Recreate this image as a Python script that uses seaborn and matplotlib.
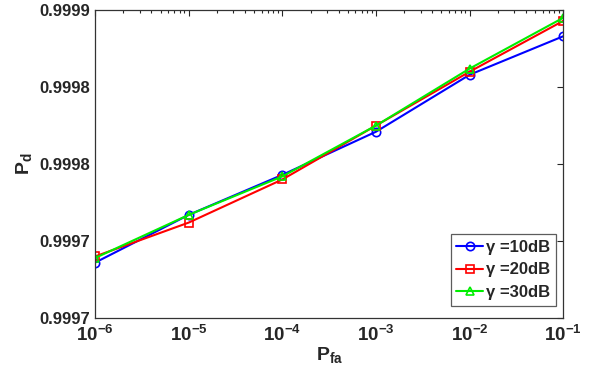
import numpy as np
import pandas as pd
import seaborn as sns
import matplotlib.pyplot as plt
from matplotlib.ticker import LogLocator, NullFormatter

# Dados
pfa = [1e-6, 1e-5, 1e-4, 1e-3, 1e-2, 1e-1]
pd_10db = [0.999736, 0.999767, 0.999793, 0.999821, 0.999858, 0.999883]
pd_20db = [0.999740, 0.999762, 0.999790, 0.999825, 0.999860, 0.999893]
pd_30db = [0.999739, 0.999767, 0.999792, 0.999825, 0.999862, 0.999895]
labels = ["γ =10dB", "γ =20dB", "γ =30dB"]
y_ticks = [0.9997, 0.99975, 0.9998, 0.99985, 0.9999]
y_tick_labels = ["0.9997", "0.9997", "0.9998", "0.9998", "0.9999"]

sns.set_style("white")
plt.rcParams["font.family"] = ["Liberation Sans", "DejaVu Sans"]
plt.rcParams["font.weight"] = "bold"
plt.rcParams["mathtext.fontset"] = "custom"
plt.rcParams["mathtext.rm"] = "Liberation Sans:bold"
plt.rcParams["mathtext.bf"] = "Liberation Sans:bold"
plt.rcParams["mathtext.it"] = "Liberation Sans:bold"
plt.rcParams["mathtext.default"] = "bf"

df = pd.DataFrame({
    "Pfa": pfa * 3,
    "Pd": pd_10db + pd_20db + pd_30db,
    "Serie": [labels[0]] * 6 + [labels[1]] * 6 + [labels[2]] * 6,
})

fig = plt.figure(figsize=(5.98, 3.72), dpi=100)
ax = fig.add_axes([0.159, 0.145, 0.783, 0.828])

cores = ["#0000ff", "#ff0000", "#00ee00"]
marcadores = ["o", "s", "^"]
for lab, cor, mk in zip(labels, cores, marcadores):
    sub = df[df["Serie"] == lab]
    sns.lineplot(data=sub, x="Pfa", y="Pd", ax=ax, color=cor, marker=mk,
                 markersize=6, markerfacecolor="none", markeredgecolor=cor,
                 markeredgewidth=1.2, linewidth=1.5, label=lab)

ax.set_xscale("log")
ax.set_xlim(1e-6, 1e-1)
ax.set_ylim(0.9997, 0.9999)
ax.set_yticks(y_ticks)
ax.set_yticklabels(y_tick_labels)
ax.xaxis.set_major_locator(LogLocator(base=10, numticks=10))
ax.xaxis.set_minor_locator(LogLocator(base=10, subs=np.arange(2, 10), numticks=10))
ax.xaxis.set_minor_formatter(NullFormatter())
ax.tick_params(axis="both", which="both", direction="in", top=True, right=True,
               labelsize=12, width=0.8)
ax.tick_params(axis="x", which="major", labelsize=13.5, pad=5)
ax.tick_params(axis="both", which="major", length=4)
ax.tick_params(axis="x", which="minor", length=2)
for s in ax.spines.values():
    s.set_color("#333333")
    s.set_linewidth(0.9)

ax.set_xlabel(r"$\mathbf{P}_{\mathbf{fa}}$", fontsize=14, labelpad=0)
ax.set_ylabel(r"$\mathbf{P}_{\mathbf{d}}$", fontsize=14, labelpad=4)

leg = ax.legend(loc="lower right", fontsize=12, frameon=True, fancybox=False,
                bbox_to_anchor=(0.985, 0.04), borderaxespad=0.0,
                handlelength=1.6, handletextpad=0.2,
                borderpad=0.35, labelspacing=0.45)
leg.get_frame().set_edgecolor("#333333")
leg.get_frame().set_linewidth(0.9)

plt.savefig("out.png", dpi=100)
plt.close()
